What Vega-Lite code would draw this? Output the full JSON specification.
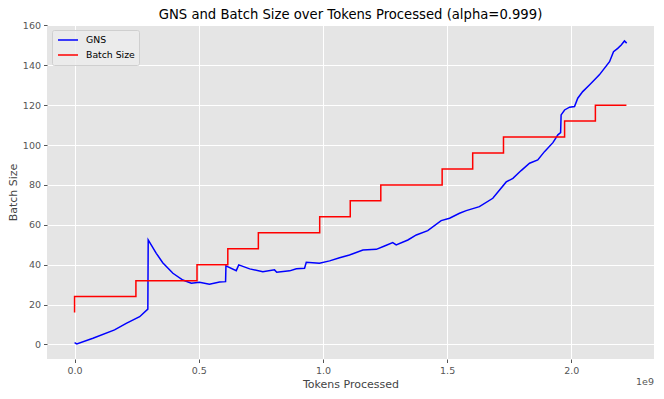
{
  "$schema": "https://vega.github.io/schema/vega-lite/v6.json",
  "autosize": {"type": "none"},
  "padding": {"left": 47, "top": 25, "right": 10, "bottom": 40},
  "width": 607,
  "height": 334,
  "background": "white",
  "config": {
    "font": "DejaVu Sans",
    "view": {"fill": "#E5E5E5", "stroke": null},
    "axis": {
      "grid": true,
      "gridColor": "#FFFFFF",
      "gridWidth": 1,
      "domain": false,
      "tickColor": "#555555",
      "tickSize": 3.5,
      "labelColor": "#555555",
      "labelFontSize": 9.5,
      "labelFont": "DejaVu Sans",
      "titleFont": "DejaVu Sans",
      "titleFontSize": 11,
      "titleFontWeight": "normal",
      "titleColor": "#444444"
    },
    "title": {"font": "DejaVu Sans", "fontSize": 13.2, "fontWeight": "normal", "color": "#000000", "offset": -2}
  },
  "title": {"text": "GNS and Batch Size over Tokens Processed (alpha=0.999)", "anchor": "middle"},
  "datasets": {
    "gns": [
      {"tokens": 0.0, "value": 0.9}, {"tokens": 0.009, "value": 0.3}, {"tokens": 0.074, "value": 3.1},
      {"tokens": 0.161, "value": 7.3}, {"tokens": 0.208, "value": 10.6}, {"tokens": 0.262, "value": 13.9},
      {"tokens": 0.295, "value": 17.7}, {"tokens": 0.2965, "value": 52.4}, {"tokens": 0.329, "value": 45.7},
      {"tokens": 0.355, "value": 41.0}, {"tokens": 0.396, "value": 35.7}, {"tokens": 0.436, "value": 32.3},
      {"tokens": 0.47, "value": 30.7}, {"tokens": 0.503, "value": 31.2}, {"tokens": 0.543, "value": 30.2},
      {"tokens": 0.584, "value": 31.3}, {"tokens": 0.608, "value": 31.5}, {"tokens": 0.6095, "value": 39.4},
      {"tokens": 0.651, "value": 37.0}, {"tokens": 0.661, "value": 39.9}, {"tokens": 0.705, "value": 37.9},
      {"tokens": 0.758, "value": 36.5}, {"tokens": 0.805, "value": 37.4}, {"tokens": 0.814, "value": 36.2},
      {"tokens": 0.866, "value": 36.9}, {"tokens": 0.893, "value": 38.0}, {"tokens": 0.926, "value": 38.2},
      {"tokens": 0.933, "value": 41.2}, {"tokens": 0.986, "value": 40.7}, {"tokens": 1.027, "value": 41.9},
      {"tokens": 1.067, "value": 43.5}, {"tokens": 1.107, "value": 44.9}, {"tokens": 1.161, "value": 47.4},
      {"tokens": 1.215, "value": 47.7}, {"tokens": 1.248, "value": 49.4}, {"tokens": 1.281, "value": 51.1},
      {"tokens": 1.295, "value": 49.9}, {"tokens": 1.342, "value": 52.4}, {"tokens": 1.376, "value": 54.9},
      {"tokens": 1.422, "value": 57.1}, {"tokens": 1.476, "value": 62.1}, {"tokens": 1.51, "value": 63.3},
      {"tokens": 1.55, "value": 65.8}, {"tokens": 1.577, "value": 67.1}, {"tokens": 1.63, "value": 69.1},
      {"tokens": 1.684, "value": 73.3}, {"tokens": 1.738, "value": 81.5}, {"tokens": 1.765, "value": 83.3},
      {"tokens": 1.798, "value": 87.2}, {"tokens": 1.832, "value": 90.9}, {"tokens": 1.865, "value": 92.5},
      {"tokens": 1.892, "value": 96.7}, {"tokens": 1.926, "value": 101.2}, {"tokens": 1.946, "value": 105.1},
      {"tokens": 1.957, "value": 106.2}, {"tokens": 1.959, "value": 115.1}, {"tokens": 1.973, "value": 117.6},
      {"tokens": 1.993, "value": 119.0}, {"tokens": 2.013, "value": 119.3}, {"tokens": 2.026, "value": 123.5},
      {"tokens": 2.046, "value": 126.8}, {"tokens": 2.073, "value": 130.1}, {"tokens": 2.113, "value": 135.2},
      {"tokens": 2.154, "value": 141.8}, {"tokens": 2.17, "value": 146.8}, {"tokens": 2.187, "value": 148.5},
      {"tokens": 2.201, "value": 150.2}, {"tokens": 2.214, "value": 152.2}, {"tokens": 2.223, "value": 151.1}
    ],
    "batch": [
      {"i": 0, "tokens": 0.0, "value": 16}, {"i": 1, "tokens": 0.0, "value": 24},
      {"i": 2, "tokens": 0.247, "value": 32}, {"i": 3, "tokens": 0.493, "value": 40},
      {"i": 4, "tokens": 0.617, "value": 48}, {"i": 5, "tokens": 0.74, "value": 56},
      {"i": 6, "tokens": 0.987, "value": 64}, {"i": 7, "tokens": 1.11, "value": 72},
      {"i": 8, "tokens": 1.233, "value": 80}, {"i": 9, "tokens": 1.48, "value": 88},
      {"i": 10, "tokens": 1.603, "value": 96}, {"i": 11, "tokens": 1.727, "value": 104},
      {"i": 12, "tokens": 1.973, "value": 112}, {"i": 13, "tokens": 2.097, "value": 120},
      {"i": 14, "tokens": 2.222, "value": 120}
    ]
  },
  "layer": [
    {
      "data": {"name": "gns"},
      "transform": [{"calculate": "'GNS'", "as": "series"}],
      "mark": {"type": "line", "strokeWidth": 1.5, "interpolate": "linear"},
      "encoding": {
        "x": {
          "field": "tokens", "type": "quantitative",
          "scale": {"domain": [-0.111, 2.333], "nice": false, "zero": false},
          "axis": {"values": [0, 0.5, 1, 1.5, 2], "format": ".1f", "title": "Tokens Processed", "titlePadding": 3, "labelPadding": 3}
        },
        "y": {
          "field": "value", "type": "quantitative",
          "scale": {"domain": [-7.3, 160.2], "nice": false, "zero": false},
          "axis": {"values": [0, 20, 40, 60, 80, 100, 120, 140, 160], "title": "Batch Size", "titlePadding": 4, "labelPadding": 3}
        },
        "color": {
          "field": "series", "type": "nominal",
          "scale": {"domain": ["GNS", "Batch Size"], "range": ["#0000FF", "#FF0000"]},
          "legend": {
            "title": null, "orient": "none", "legendX": 5, "legendY": 5,
            "symbolType": "M-2,0H2", "symbolSize": 100, "symbolStrokeWidth": 1.5, "symbolOffset": 6,
            "labelFontSize": 9.3, "labelColor": "#000000", "labelFont": "DejaVu Sans", "labelOffset": 12,
            "fillColor": "rgba(236,236,236,0.8)", "strokeColor": "#CFCFCF", "padding": 4,
            "rowPadding": 3, "cornerRadius": 2
          }
        }
      }
    },
    {
      "data": {"name": "batch"},
      "transform": [{"calculate": "'Batch Size'", "as": "series"}],
      "mark": {"type": "line", "strokeWidth": 1.5, "interpolate": "step-after"},
      "encoding": {
        "x": {"field": "tokens", "type": "quantitative"},
        "y": {"field": "value", "type": "quantitative"},
        "color": {"field": "series", "type": "nominal"},
        "order": {"field": "i", "type": "quantitative"}
      }
    },
    {
      "data": {"values": [{"label": "1e9"}]},
      "mark": {"type": "text", "align": "right", "baseline": "middle", "dy": 23, "fontSize": 9.5, "fill": "#555555", "font": "DejaVu Sans"},
      "encoding": {
        "x": {"datum": 2.333},
        "y": {"datum": -7.3},
        "text": {"field": "label", "type": "nominal"}
      }
    }
  ]
}
